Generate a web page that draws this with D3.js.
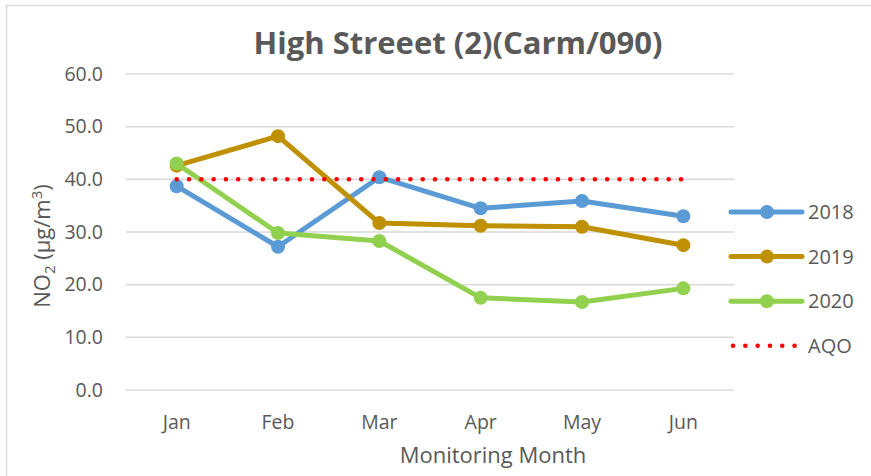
<!DOCTYPE html>
<html>
<head>
<meta charset="utf-8">
<script src="https://cdn.jsdelivr.net/npm/d3@7"></script>
<style>
  body { margin: 0; background: #fff; }
  text { font-family: "Open Sans", sans-serif; fill: #595959; }
</style>
</head>
<body>
<div id="chart"></div>
<script>
// chart values
var months = ["Jan", "Feb", "Mar", "Apr", "May", "Jun"];
var yTicks = [0, 10, 20, 30, 40, 50, 60];
var values2018 = [38.7, 27.2, 40.4, 34.5, 35.9, 33.0];
var values2019 = [42.6, 48.2, 31.7, 31.2, 31.0, 27.5];
var values2020 = [43.0, 29.8, 28.3, 17.5, 16.7, 19.3];
var valuesAQO = [40, 40, 40, 40, 40, 40];

var series = [
    {name: "2018", values: values2018, color: "#5B9BD5", dotted: false},
    {name: "2019", values: values2019, color: "#BF9000", dotted: false},
    {name: "2020", values: values2020, color: "#92D050", dotted: false},
    {name: "AQO", values: valuesAQO, color: "#FF0000", dotted: true}
];

var W = 871, H = 476;
var margin = {top: 74, left: 126, right: 137, bottom: 86};
var width = W - margin.left - margin.right,
    height = H - margin.top - margin.bottom;

var svg = d3.select("#chart")
    .append("svg")
    .attr("width", W)
    .attr("height", H);

// outer chart border
svg.append("rect")
    .attr("x", 6.5).attr("y", 5.5)
    .attr("width", W + 10).attr("height", H + 10)
    .attr("fill", "none")
    .attr("stroke", "#d9d9d9")
    .attr("stroke-width", 1.5);

var g = svg.append("g")
    .attr("transform", "translate(" + margin.left + "," + margin.top + ")");

var x = d3.scaleBand().domain(months).range([0, width]);
var y = d3.scaleLinear().domain([0, 60]).range([height, 0]);

// gridlines
g.append("g")
    .selectAll("line")
    .data(yTicks)
    .enter().append("line")
    .attr("x1", 0).attr("x2", width)
    .attr("y1", function (d) { return y(d); })
    .attr("y2", function (d) { return y(d); })
    .attr("stroke", "#d9d9d9")
    .attr("stroke-width", 1.5);

// y axis labels
var yAxis = g.append("g")
    .call(d3.axisLeft(y).tickValues(yTicks).tickFormat(d3.format(".1f")).tickSize(0).tickPadding(23));
yAxis.select(".domain").remove();
yAxis.selectAll("text").style("font-size", "19.5px").attr("fill", "#595959");

// x axis labels
var xAxis = g.append("g")
    .attr("transform", "translate(0," + height + ")")
    .call(d3.axisBottom(x).tickSize(0).tickPadding(25));
xAxis.select(".domain").remove();
xAxis.selectAll("text").style("font-size", "19.5px").attr("fill", "#595959");

// axis titles
svg.append("text")
    .attr("x", 493).attr("y", 463)
    .attr("text-anchor", "middle")
    .style("font-size", "22px")
    .text("Monitoring Month");

var yt = svg.append("text")
    .attr("transform", "translate(50,246) rotate(-90)")
    .attr("text-anchor", "middle")
    .style("font-size", "22px");
yt.append("tspan").text("NO");
yt.append("tspan").attr("dy", 5).style("font-size", "15px").text("2");
yt.append("tspan").attr("dy", -5).text(" (µg/m");
yt.append("tspan").attr("dy", -8).style("font-size", "15px").text("3");
yt.append("tspan").attr("dy", 8).text(")");

// title
svg.append("text")
    .attr("x", 458).attr("y", 54)
    .attr("text-anchor", "middle")
    .style("font-size", "31px")
    .style("font-weight", "bold")
    .text("High Streeet (2)(Carm/090)");

var line = d3.line()
    .x(function (d, i) { return x(months[i]) + x.bandwidth() / 2; })
    .y(function (d) { return y(d); });

series.forEach(function (s) {
    var path = g.append("path")
        .datum(s.values)
        .attr("fill", "none")
        .attr("stroke", s.color)
        .attr("d", line);
    if (s.dotted) {
        path.attr("stroke-width", 4.5)
            .attr("stroke-linecap", "round")
            .attr("stroke-dasharray", "0.1 12.2");
    } else {
        path.attr("stroke-width", 5)
            .attr("stroke-linejoin", "round")
            .attr("stroke-linecap", "round");
        g.append("g")
            .selectAll("circle")
            .data(s.values)
            .enter().append("circle")
            .attr("cx", function (d, i) { return x(months[i]) + x.bandwidth() / 2; })
            .attr("cy", function (d) { return y(d); })
            .attr("r", 7)
            .attr("fill", s.color);
    }
});

// legend
var legend = svg.append("g").attr("transform", "translate(731,212)");
series.forEach(function (s, i) {
    var row = legend.append("g").attr("transform", "translate(0," + (i * 44.6) + ")");
    var l = row.append("line")
        .attr("x1", 0).attr("x2", 71)
        .attr("y1", 0).attr("y2", 0)
        .attr("stroke", s.color);
    if (s.dotted) {
        l.attr("x1", 2).attr("stroke-width", 4.5)
            .attr("stroke-linecap", "round")
            .attr("stroke-dasharray", "0.1 12.2");
    } else {
        l.attr("stroke-width", 5).attr("stroke-linecap", "round");
        row.append("circle").attr("cx", 36).attr("cy", 0).attr("r", 7).attr("fill", s.color);
    }
    row.append("text")
        .attr("x", 77).attr("y", 0)
        .attr("dy", "0.35em")
        .style("font-size", "20px")
        .text(s.name);
});
</script>
</body>
</html>
